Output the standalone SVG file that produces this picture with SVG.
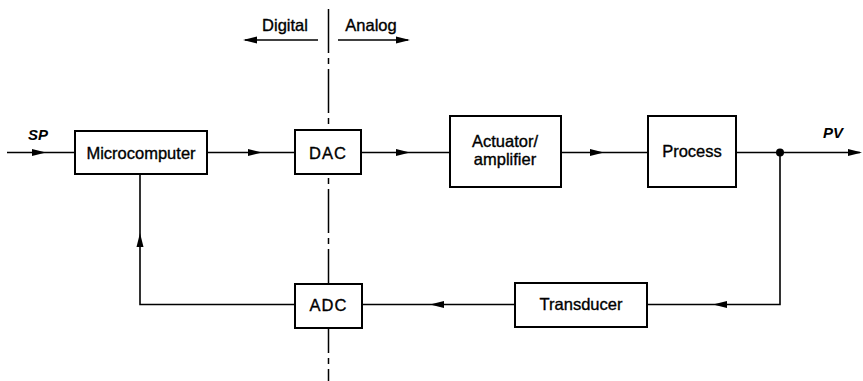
<svg xmlns="http://www.w3.org/2000/svg" width="863" height="381" viewBox="0 0 863 381">
<defs>
<style>
.box{fill:#fff;stroke:#000;stroke-width:2}
.ln{fill:none;stroke:#000;stroke-width:1.6}
.t{font-family:"Liberation Sans",Arial,sans-serif;font-size:16.5px;fill:#000;stroke:#000;stroke-width:0.35;text-anchor:middle}
.it{font-family:"Liberation Sans",Arial,sans-serif;font-size:15px;font-style:italic;font-weight:bold;fill:#000}
</style>
<path id="ah" d="M0,0 L-14,-3.5 L-14,3.5 Z" fill="#000"/>
</defs>
<g id="divider">
<line x1="328.5" y1="9" x2="328.5" y2="381" stroke="#000" stroke-width="1.5" stroke-dasharray="44 5 6 5"/>
<text class="t" x="285" y="31">Digital</text>
<text class="t" x="371" y="31">Analog</text>
<line class="ln" x1="318" y1="40" x2="245" y2="40"/>
<use href="#ah" transform="translate(243,40) rotate(180)"/>
<line class="ln" x1="338" y1="40" x2="408" y2="40"/>
<use href="#ah" transform="translate(410,40)"/>
</g>
<g id="connectors">
<line class="ln" x1="7" y1="152.5" x2="75" y2="152.5"/>
<use href="#ah" transform="translate(46,152.5)"/>
<line class="ln" x1="207" y1="152.5" x2="295" y2="152.5"/>
<use href="#ah" transform="translate(262,152.5)"/>
<line class="ln" x1="361" y1="152.5" x2="450" y2="152.5"/>
<use href="#ah" transform="translate(410,152.5)"/>
<line class="ln" x1="561" y1="152.5" x2="648" y2="152.5"/>
<use href="#ah" transform="translate(604,152.5)"/>
<line class="ln" x1="736" y1="152.5" x2="860" y2="152.5"/>
<use href="#ah" transform="translate(862,152.5)"/>
<circle cx="780" cy="152.5" r="4" fill="#000"/>
<polyline class="ln" points="780,152.5 780,304.5 647,304.5"/>
<use href="#ah" transform="translate(713,304.5) rotate(180)"/>
<line class="ln" x1="515" y1="304.5" x2="362" y2="304.5"/>
<use href="#ah" transform="translate(430,304.5) rotate(180)"/>
<polyline class="ln" points="295,304.5 140,304.5 140,174"/>
<use href="#ah" transform="translate(140,233) rotate(-90)"/>
</g>
<g id="micro">
<rect class="box" x="75" y="131" width="132" height="43"/>
<text class="t" x="141" y="159">Microcomputer</text>
</g>
<g id="dac">
<rect class="box" x="295" y="130" width="66" height="44"/>
<text class="t" x="328" y="159" letter-spacing="1">DAC</text>
</g>
<g id="actuator">
<rect class="box" x="450" y="116" width="111" height="71"/>
<text class="t" x="505" y="147">Actuator/</text>
<text class="t" x="505" y="165">amplifier</text>
</g>
<g id="process">
<rect class="box" x="648" y="116" width="88" height="71"/>
<text class="t" x="692" y="157">Process</text>
</g>
<g id="adc">
<rect class="box" x="295" y="284" width="67" height="44"/>
<text class="t" x="328.5" y="311" letter-spacing="1">ADC</text>
</g>
<g id="transducer">
<rect class="box" x="515" y="283" width="132" height="44"/>
<text class="t" x="581" y="310">Transducer</text>
</g>
<g id="labels">
<text class="it" x="28" y="140">SP</text>
<text class="it" x="823" y="138">PV</text>
</g>
</svg>
